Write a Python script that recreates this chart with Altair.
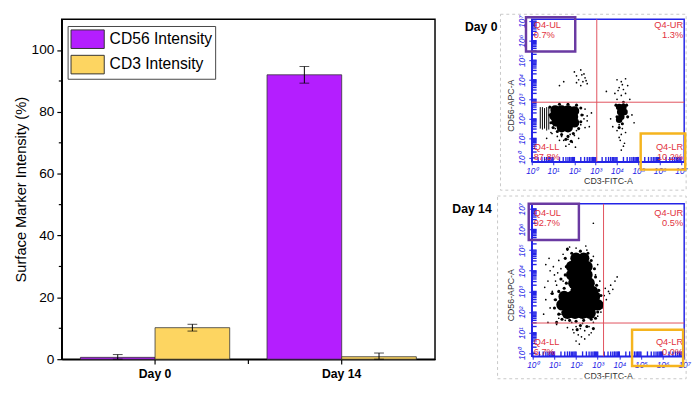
import math
import altair as alt
import pandas as pd

FONT = "Liberation Sans"
PURPLE = "#B41EFF"
YELLOW = "#FDD561"
BLUE = "#2424E6"
RED_TXT = "#E2323E"
RED_LINE = "#E0505C"
BOX_PURPLE = "#6A3AA2"
BOX_ORANGE = "#F5B41E"

# ---------------- bar chart data ----------------
days = ["Day 0", "Day 14"]
markers = ["CD56 Intensity", "CD3 Intensity"]
cd56_mean = [0.6, 92.0]
cd56_err = [0.9, 2.7]
cd3_mean = [10.2, 0.8]
cd3_err = [1.1, 1.2]
y_ticks = [0, 20, 40, 60, 80, 100]
y_minor = [10, 30, 50, 70, 90]

# ---------------- flow cytometry data (log10 decades) ----------------
decade_labels = ["10⁰", "10¹", "10²", "10³", "10⁴", "10⁵", "10⁶", "10⁷"]
quad_names = ["Q4-UL", "Q4-UR", "Q4-LL", "Q4-LR"]

# Day 0
d0_core_x = [1.1, 1.4, 1.7, 2.0, 1.05, 1.35, 1.65, 1.95, 1.15, 1.45, 1.75, 2.0, 1.4, 1.7]
d0_core_y = [2.45, 2.45, 2.45, 2.4, 2.15, 2.15, 2.15, 2.1, 1.85, 1.85, 1.85, 1.8, 1.55, 1.55]
d0_core2_x = [4.1, 4.3, 4.15, 4.35, 4.2, 4.1]
d0_core2_y = [2.6, 2.6, 2.35, 2.35, 2.1, 1.95]
d0_halo_x = [0.85, 0.85, 0.9, 1.0, 1.2, 1.4, 1.7, 1.95, 2.2, 2.3, 2.35, 2.3, 2.1, 1.7,
             1.3, 1.6, 1.85, 3.95, 4.45, 4.0, 4.5, 4.25, 4.1, 4.3]
d0_halo_y = [2.6, 2.2, 1.8, 1.55, 1.35, 1.2, 1.1, 1.25, 1.5, 1.85, 2.2, 2.55, 2.7, 2.75,
             2.75, 0.95, 0.85, 2.7, 2.7, 2.1, 2.1, 1.75, 1.55, 2.85]
d0_dot_x = [2.0, 2.1, 2.3, 2.2, 2.4, 2.5, 2.3, 2.6, 2.1, 2.45, 1.5, 1.3, 2.35, 2.55,
            4.0, 4.2, 4.4, 4.1, 4.3, 4.5, 3.9, 4.2, 4.4, 4.0, 4.6, 3.5, 4.25, 4.05,
            4.1, 4.25, 4.2, 4.15, 4.3, 4.2, 4.0, 4.4, 4.1, 4.35,
            0.9, 1.2, 1.5, 1.8, 2.1, 2.3, 2.4, 2.5, 2.6, 1.6, 1.9, 0.7, 2.2, 2.8, 2.7,
            3.7, 3.8, 4.7, 4.8, 1.4, 1.7, 2.0, 1.1, 2.45, 2.6, 2.5, 1.75, 2.05, 1.3, 0.95]
d0_dot_y = [4.4, 4.2, 4.5, 4.0, 3.9, 4.1, 3.7, 3.8, 3.85, 4.3, 3.9, 3.7, 4.25, 3.95,
            4.0, 3.9, 4.05, 3.6, 3.5, 3.7, 3.3, 3.2, 3.3, 3.0, 3.0, 3.4, 3.75, 3.45,
            1.7, 1.5, 1.2, 0.9, 0.6, 0.4, 1.4, 1.3, 1.05, 0.75,
            1.3, 1.1, 0.9, 1.2, 1.4, 1.7, 2.2, 2.5, 1.9, 0.6, 0.8, 1.0, 1.0, 2.3, 1.6,
            2.0, 1.6, 2.2, 1.8, 1.1, 0.95, 1.15, 1.5, 2.0, 2.15, 1.55, 0.7, 0.55, 0.9, 1.25]
d0_stripe_x = [0.4, 0.5, 0.6, 0.7, 0.8]
d0_stripe_lo = [1.5, 1.45, 1.5, 1.4, 1.45]
d0_stripe_hi = [2.6, 2.6, 2.55, 2.6, 2.6]
d0_quad_x = 3.05
d0_quad_y = 2.85
d0_pct = ["0.7%", "1.3%", "87.8%", "10.2%"]

# Day 14
d14_core_x = [2.0, 2.35, 1.8, 2.15, 2.5, 1.8, 2.15, 2.5, 1.9, 2.25, 2.6, 2.0, 2.4, 2.75,
              1.45, 1.8, 2.15, 2.5, 2.85, 1.35, 1.7, 2.05, 2.4, 2.75, 3.0, 1.6, 1.95, 2.3, 2.65]
d14_core_y = [4.6, 4.6, 4.2, 4.2, 4.2, 3.8, 3.8, 3.8, 3.4, 3.4, 3.4, 3.0, 3.0, 3.0,
              2.75, 2.75, 2.75, 2.75, 2.75, 2.35, 2.35, 2.35, 2.35, 2.35, 2.35, 1.95, 1.95, 1.95, 1.95]
d14_halo_x = [1.5, 1.55, 1.5, 1.55, 2.7, 2.85, 2.9, 2.95, 2.2, 1.8, 2.55,
              1.05, 1.0, 1.2, 1.35, 1.7, 2.0, 2.35, 2.7, 3.0, 3.2, 3.15, 1.2, 1.45, 3.05,
              1.1, 2.2, 2.5, 2.9, 1.3, 0.9, 1.6, 2.05, 2.8]
d14_halo_y = [4.6, 4.2, 3.8, 3.4, 4.5, 4.1, 3.7, 3.3, 4.95, 4.85, 4.85,
              2.6, 2.2, 1.9, 1.65, 1.6, 1.55, 1.6, 1.65, 2.0, 2.4, 2.8, 3.0, 3.15, 3.05,
              1.5, 1.35, 1.3, 1.7, 3.6, 2.9, 5.05, 1.15, 1.2]
d14_dot_x = [0.6, 0.8, 0.7, 1.0, 1.2, 1.3, 0.9, 1.1, 0.6, 0.8, 1.0, 1.2, 1.4, 1.4, 1.6,
             2.0, 2.5, 2.8, 3.0, 2.9, 3.1, 1.3, 1.5, 1.8, 2.0, 2.2, 2.4, 2.6, 2.8, 3.0,
             2.1, 2.4, 2.6, 2.0, 3.2, 3.3, 3.5, 3.6, 3.8, 3.9, 3.7, 3.4, 0.5, 0.7, 1.1,
             2.8, 1.2, 1.35, 3.15, 3.05, 2.3, 1.9, 0.75, 0.95, 1.15, 0.55, 1.7, 2.45,
             2.25, 1.85, 3.35, 3.55, 0.85, 1.05, 1.25, 2.7, 2.15, 1.6]
d14_dot_y = [4.3, 4.0, 3.5, 3.8, 4.5, 4.1, 3.0, 3.3, 2.6, 2.2, 2.6, 3.0, 3.5, 4.8, 5.0,
             5.1, 5.0, 4.7, 4.3, 3.8, 3.5, 1.9, 1.6, 1.5, 1.3, 1.2, 1.1, 1.3, 1.5, 1.8,
             0.9, 0.7, 0.9, 0.6, 2.2, 2.8, 3.0, 3.3, 3.5, 3.7, 3.1, 2.6, 1.9, 1.5, 1.4,
             6.3, 1.7, 2.0, 2.0, 2.9, 1.45, 1.0, 4.6, 4.2, 3.9, 3.2, 5.15, 5.2,
             0.8, 1.15, 3.15, 2.9, 2.9, 3.5, 2.45, 1.0, 0.45, 1.25]
d14_quad_x = 3.27
d14_quad_y = 1.47
d14_pct = ["92.7%", "0.5%", "6.7%", "0.0%"]

# ---------------- bar chart ----------------
rows = []
for i, d in enumerate(days):
    for m, mean, err in [(markers[0], cd56_mean[i], cd56_err[i]),
                         (markers[1], cd3_mean[i], cd3_err[i])]:
        rows.append({"day": d, "marker": m, "value": mean,
                     "lo": max(mean - err, 0.0), "hi": mean + err})
bar_df = pd.DataFrame(rows)

BW, BH = 382, 348

X = alt.X("day:N", sort=days,
          scale=alt.Scale(paddingInner=0.2, paddingOuter=0.1),
          axis=alt.Axis(title=None, labelAngle=0, labelFont=FONT, labelFontSize=12.5,
                        labelFontWeight="bold", labelColor="black", labelPadding=4,
                        tickSize=5, tickColor="black", tickWidth=1.2,
                        domainColor="black", domainWidth=1.5))
XO = alt.XOffset("marker:N", sort=markers)
bar_yaxis = alt.Axis(values=y_ticks, title="Surface Marker Intensity (%)", titleFont=FONT,
                     titleFontSize=15, titleFontWeight="normal", titleColor="black",
                     titlePadding=3, labelFont=FONT, labelFontSize=14, labelColor="black",
                     labelPadding=3, tickSize=5, tickColor="black", tickWidth=1.2,
                     domainColor="black", domainWidth=1.5, grid=False)


def by(field):
    return alt.Y(field, type="quantitative", scale=alt.Scale(domain=[0, 110], nice=False),
                 axis=bar_yaxis)


legend = alt.Legend(title=None, orient="none", legendX=6, legendY=7, direction="vertical",
                    fillColor="white", strokeColor="#444", padding=3,
                    symbolType="M-1,-0.95H2.4V0.95H-1Z", symbolSize=400,
                    symbolStrokeColor="#333", symbolStrokeWidth=1, symbolOpacity=1,
                    labelFont=FONT, labelFontSize=16, labelColor="black", labelOffset=19,
                    rowPadding=3, labelLimit=300)

bars = alt.Chart(bar_df).mark_bar(stroke="#333", strokeWidth=0.8).encode(
    x=X, xOffset=XO, y=by("value"),
    color=alt.Color("marker:N", sort=markers,
                    scale=alt.Scale(domain=markers, range=[PURPLE, YELLOW]), legend=legend))
err_rule = alt.Chart(bar_df).mark_rule(color="black", strokeWidth=1).encode(
    x=X, xOffset=XO, y=by("lo"), y2="hi:Q")
cap_hi = alt.Chart(bar_df).mark_tick(color="black", size=10, thickness=1).encode(
    x=X, xOffset=XO, y=by("hi"))
cap_lo = alt.Chart(bar_df).mark_tick(color="black", size=10, thickness=1).encode(
    x=X, xOffset=XO, y=by("lo"))
minor_df = pd.DataFrame({"v": y_minor})
minor = alt.Chart(minor_df).mark_rule(color="black", strokeWidth=1.2).encode(
    y=by("v"), x=alt.value(-3), x2=alt.value(0))
one = pd.DataFrame({"a": [0]})
midtick = alt.Chart(one).mark_rule(color="black", strokeWidth=1.2).encode(
    x=alt.value(BW / 2), y=alt.value(BH), y2=alt.value(BH + 5))

bar_chart = alt.layer(bars, err_rule, cap_hi, cap_lo, minor, midtick).properties(
    width=BW, height=BH, view=alt.ViewBackground(stroke="black", strokeWidth=1.5))

# ---------------- flow panels ----------------
label_expr = "[" + ",".join("'%s'" % t for t in decade_labels) + "][datum.value]"
minor_pos = [d + math.log10(k) for d in range(7) for k in range(1, 10)] + [7.0]


def flow_panel(W, H, xdom, ydom, core_x, core_y, core_size, core2_x, core2_y,
               halo_x, halo_y, dot_x, dot_y,
               stripe_x, stripe_lo, stripe_hi, qx, qy, pcts, ul_box, lr_box,
               day_text, frame, day_pos, ext_left, lab_y):
    xaxis = alt.Axis(values=list(range(8)), labelExpr=label_expr, labelFlush=False,
                     labelOverlap=False, labelColor=BLUE, labelFont=FONT, labelFontSize=8.5,
                     labelFontStyle="italic", labelPadding=2, tickColor=BLUE, tickSize=3,
                     domainColor=BLUE, domainWidth=1.5, grid=False, title="CD3-FITC-A",
                     titleFont=FONT, titleFontSize=9, titleFontWeight="normal",
                     titleColor="#333", titlePadding=2)
    yaxis = alt.Axis(values=list(range(8)), labelExpr=label_expr, labelFlush=False,
                     labelOverlap=False, labelAngle=-90, labelAlign="center",
                     labelBaseline="bottom", labelColor=BLUE, labelFont=FONT,
                     labelFontSize=8.5, labelFontStyle="italic", labelPadding=2,
                     tickColor=BLUE, tickSize=3, domainColor=BLUE, domainWidth=1.5,
                     grid=False, title="CD56-APC-A", titleFont=FONT, titleFontSize=9,
                     titleFontWeight="normal", titleColor="#333", titlePadding=3,
                     titleY=H / 2 + 15)

    def fx(f):
        return alt.X(f, type="quantitative",
                     scale=alt.Scale(domain=xdom, nice=False, zero=False), axis=xaxis)

    def fy(f):
        return alt.Y(f, type="quantitative",
                     scale=alt.Scale(domain=ydom, nice=False, zero=False), axis=yaxis)

    one_row = pd.DataFrame({"a": [0]})
    layers = []
    layers.append(alt.Chart(one_row).mark_rect(
        fill="white", fillOpacity=0, stroke="#C8C8C8", strokeDash=[3, 3], strokeWidth=1).encode(
        x=alt.value(frame[0]), x2=alt.value(frame[1]), y=alt.value(frame[2]), y2=alt.value(frame[3])))
    layers.append(alt.Chart(one_row).mark_rule(strokeOpacity=0).encode(
        x=alt.value(ext_left), y=alt.value(20), y2=alt.value(21)))
    layers.append(alt.Chart(one_row).mark_text(
        font=FONT, fontSize=12.5, fontWeight="bold", align="right", baseline="middle",
        color="black").encode(x=alt.value(day_pos[0]), y=alt.value(day_pos[1]),
                              text=alt.value(day_text)))
    tick_df = pd.DataFrame({"x": minor_pos, "y": minor_pos})
    layers.append(alt.Chart(tick_df).mark_rule(color=BLUE, strokeWidth=1.4).encode(
        x=fx("x"), y=alt.value(H), y2=alt.value(H - 5)))
    layers.append(alt.Chart(tick_df).mark_rule(color=BLUE, strokeWidth=1.4).encode(
        y=fy("y"), x=alt.value(0), x2=alt.value(5)))
    if stripe_x:
        sdf = pd.DataFrame({"x": stripe_x, "y": stripe_lo, "y2": stripe_hi})
        layers.append(alt.Chart(sdf).mark_rule(color="black", strokeWidth=1).encode(
            x=fx("x"), y=fy("y"), y2="y2:Q"))
    layers.append(alt.Chart(pd.DataFrame({"x": core_x, "y": core_y})).mark_circle(
        color="black", size=core_size, opacity=1).encode(x=fx("x"), y=fy("y")))
    if core2_x:
        layers.append(alt.Chart(pd.DataFrame({"x": core2_x, "y": core2_y})).mark_circle(
            color="black", size=45, opacity=1).encode(x=fx("x"), y=fy("y")))
    layers.append(alt.Chart(pd.DataFrame({"x": halo_x, "y": halo_y})).mark_circle(
        color="black", size=10, opacity=1).encode(x=fx("x"), y=fy("y")))
    layers.append(alt.Chart(pd.DataFrame({"x": dot_x, "y": dot_y})).mark_circle(
        color="black", size=3, opacity=1).encode(x=fx("x"), y=fy("y")))
    layers.append(alt.Chart(pd.DataFrame({"x": [qx]})).mark_rule(
        color=RED_LINE, strokeWidth=1).encode(x=fx("x")))
    layers.append(alt.Chart(pd.DataFrame({"y": [qy]})).mark_rule(
        color=RED_LINE, strokeWidth=1).encode(y=fy("y")))
    xl = xdom[0] + 2 * (xdom[1] - xdom[0]) / W
    xr = xdom[1] - 1 * (xdom[1] - xdom[0]) / W
    left_df = pd.DataFrame({"x": [xl] * 4, "y": lab_y,
                            "t": [quad_names[0], pcts[0], quad_names[2], pcts[2]]})
    right_df = pd.DataFrame({"x": [xr] * 4, "y": lab_y,
                             "t": [quad_names[1], pcts[1], quad_names[3], pcts[3]]})
    layers.append(alt.Chart(left_df).mark_text(
        font=FONT, fontSize=9.5, color=RED_TXT, align="left", baseline="middle").encode(
        x=fx("x"), y=fy("y"), text="t:N"))
    layers.append(alt.Chart(right_df).mark_text(
        font=FONT, fontSize=9.5, color=RED_TXT, align="right", baseline="middle").encode(
        x=fx("x"), y=fy("y"), text="t:N"))
    layers.append(alt.Chart(pd.DataFrame([ul_box])).mark_rect(
        fill="white", fillOpacity=0, stroke=BOX_PURPLE, strokeWidth=2.5).encode(
        x=fx("x"), x2="x2:Q", y=fy("y"), y2="y2:Q"))
    layers.append(alt.Chart(pd.DataFrame([lr_box])).mark_rect(
        fill="white", fillOpacity=0, stroke=BOX_ORANGE, strokeWidth=2.5).encode(
        x=fx("x"), x2="x2:Q", y=fy("y"), y2="y2:Q"))
    return alt.layer(*layers).properties(
        width=W, height=H, view=alt.ViewBackground(stroke=BLUE, strokeWidth=1.5))


flow0 = flow_panel(
    156, 146, [0, 7.15], [-0.2, 7.1],
    d0_core_x, d0_core_y, 100, d0_core2_x, d0_core2_y, d0_halo_x, d0_halo_y,
    d0_dot_x, d0_dot_y,
    d0_stripe_x, d0_stripe_lo, d0_stripe_hi, d0_quad_x, d0_quad_y, d0_pct,
    {"x": -0.27, "x2": 2.04, "y": 5.45, "y2": 7.2},
    {"x": 5.11, "x2": 7.2, "y": 1.25, "y2": -0.6},
    "Day 0", (-32, 158, -5, 175), (-35, 8), -82,
    [6.82, 6.3, 0.55, 0.02])

flow14 = flow_panel(
    156, 156, [-0.05, 7.0], [-0.14, 7.24],
    d14_core_x, d14_core_y, 140, [], [], d14_halo_x, d14_halo_y,
    d14_dot_x, d14_dot_y,
    [], [], [], d14_quad_x, d14_quad_y, d14_pct,
    {"x": -0.19, "x2": 2.13, "y": 5.49, "y2": 7.24},
    {"x": 4.59, "x2": 6.95, "y": 1.14, "y2": -0.61},
    "Day 14", (-35, 158, -8, 179), (-41, 5), -82,
    [6.8, 6.3, 0.56, 0.06])

right = alt.vconcat(flow0, flow14, spacing=2).resolve_scale(x="independent", y="independent")

chart = alt.hconcat(bar_chart, right, spacing=15).resolve_scale(
    x="independent", y="independent", color="independent").properties(
    padding={"left": 4, "top": 0, "right": 0, "bottom": 0}).configure_view(stroke=None)

chart.save("out.html", embed_options={"renderer": "svg", "actions": False})
